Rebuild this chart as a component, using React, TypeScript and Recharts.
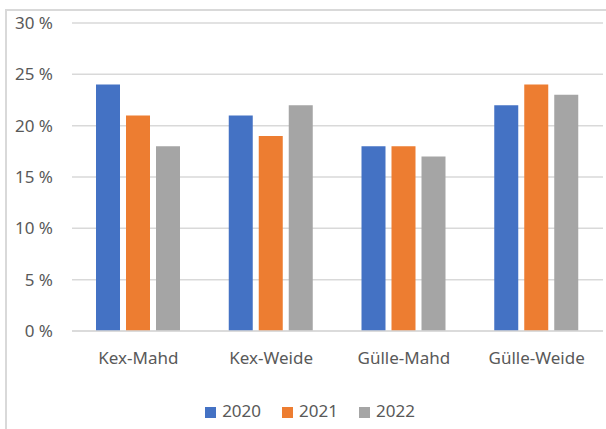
import React from 'react';
import { BarChart, Bar, XAxis, YAxis, CartesianGrid, Legend } from 'recharts';

const categories = ['Kex-Mahd', 'Kex-Weide', 'Gülle-Mahd', 'Gülle-Weide'];
const values2020 = [24, 21, 18, 22];
const values2021 = [21, 19, 18, 24];
const values2022 = [18, 22, 17, 23];
const yTicks = [0, 5, 10, 15, 20, 25, 30];

const data = categories.map((name, i) => ({
  name,
  y2020: values2020[i],
  y2021: values2021[i],
  y2022: values2022[i],
}));

const FONT = '"Noto Sans", sans-serif';
const TEXT = '#595959';

export default function App() {
  return (
    <div style={{ position: 'absolute', left: 0, top: 0, width: 606, height: 429, background: '#fff', fontFamily: FONT }}>
      {/* Excel-Rahmen links/oben */}
      <div style={{ position: 'absolute', left: 5, top: 9, width: 610, height: 430, border: '2px solid #d9d9d9', boxSizing: 'border-box' }} />
      <BarChart
        width={606}
        height={429}
        data={data}
        margin={{ top: 23, right: 3, bottom: 0, left: 0 }}
        barGap={6}
        barSize={24}
        style={{ position: 'absolute', left: 0, top: 0 }}
      >
        <CartesianGrid vertical={false} stroke="#d9d9d9" strokeWidth={1.5} />
        <XAxis
          dataKey="name"
          axisLine={{ stroke: '#d9d9d9', strokeWidth: 1.5 }}
          tickLine={false}
          tickMargin={15}
          height={68}
          tick={{ fill: TEXT, fontSize: 17, fontFamily: FONT }}
        />
        <YAxis
          width={72}
          domain={[0, 30]}
          ticks={yTicks}
          axisLine={false}
          tickLine={false}
          tickSize={0}
          tickMargin={19}
          tickFormatter={(v: number) => `${v} %`}
          tick={{ fill: TEXT, fontSize: 17, fontFamily: FONT }}
        />
        <Legend
          verticalAlign="bottom"
          iconType="square"
          iconSize={11}
          height={30}
          wrapperStyle={{ fontSize: 17, fontFamily: FONT, color: TEXT, paddingLeft: 19 }}
          formatter={(value: string) => (
            <span style={{ color: TEXT, marginLeft: 2, marginRight: 11 }}>{value}</span>
          )}
        />
        <Bar dataKey="y2020" name="2020" fill="#4472C4" isAnimationActive={false} />
        <Bar dataKey="y2021" name="2021" fill="#ED7D31" isAnimationActive={false} />
        <Bar dataKey="y2022" name="2022" fill="#A5A5A5" isAnimationActive={false} />
      </BarChart>
    </div>
  );
}
